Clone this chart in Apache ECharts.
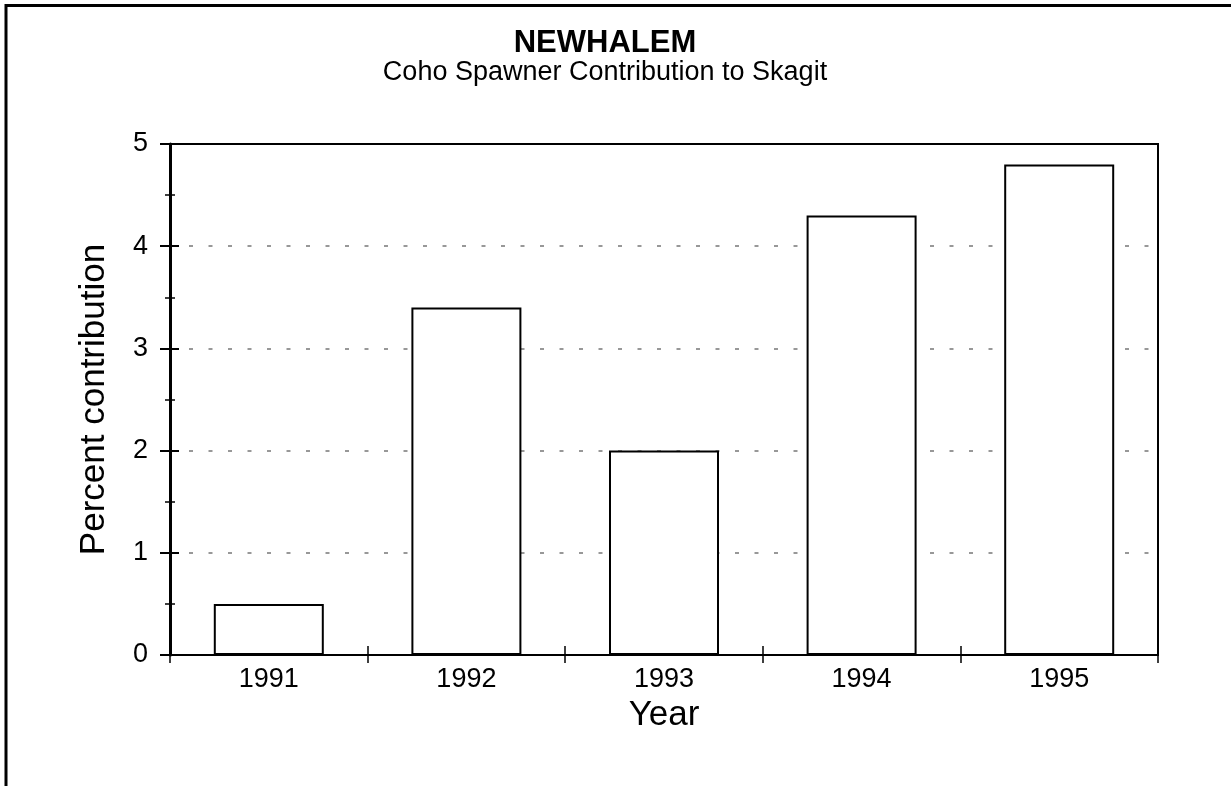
<!DOCTYPE html>
<html>
<head>
<meta charset="utf-8">
<script src="https://cdn.jsdelivr.net/npm/echarts@6/dist/echarts.min.js"></script>
<style>
  html, body { margin: 0; padding: 0; background: #fff; }
  #chart { width: 1231px; height: 786px; }
</style>
</head>
<body>
<div id="chart"></div>
<script>
// 数据
const years = ['1991', '1992', '1993', '1994', '1995'];
const percentValues = [0.5, 3.4, 2.0, 4.3, 4.8];
const chartTitle = 'NEWHALEM';
const chartSubtitle = 'Coho Spawner Contribution to Skagit';

const FONT = '"Liberation Sans", Arial, Helvetica, sans-serif';

const chart = echarts.init(document.getElementById('chart'));

// 刻度穿过轴线：同一位置放两根轴，一根向外一根向内
const yBase = {
  type: 'value', min: 0, max: 5, interval: 1, position: 'left'
};

chart.setOption({
  animation: false,
  backgroundColor: '#fff',
  grid: {
    left: 170, top: 144, right: 73, bottom: 131,
    show: true, borderColor: '#000', borderWidth: 2, backgroundColor: 'transparent'
  },
  graphic: [
    { // 外框
      type: 'rect', silent: true, z: 100,
      shape: { x: 6, y: 5.5, width: 1400, height: 1000 },
      style: { fill: 'none', stroke: '#000', lineWidth: 3 }
    },
    {
      type: 'text', x: 605, y: 28,
      style: { text: chartTitle, font: 'bold 31px ' + FONT, fill: '#000', textAlign: 'center' }
    },
    {
      type: 'text', x: 605, y: 59,
      style: { text: chartSubtitle, font: '27px ' + FONT, fill: '#000', textAlign: 'center' }
    }
  ],
  xAxis: [
    {
      type: 'category', data: years, position: 'bottom',
      name: 'Year', nameLocation: 'middle', nameGap: 43,
      nameTextStyle: { fontFamily: FONT, fontSize: 35, color: '#000' },
      axisLine: { lineStyle: { color: '#000', width: 2 } },
      axisTick: { show: true, length: 8, lineStyle: { color: '#000', width: 1.5 } },
      axisLabel: { fontFamily: FONT, fontSize: 27, color: '#000', margin: 11 }
    },
    {
      type: 'category', data: years, position: 'bottom',
      axisLine: { show: false },
      axisTick: { show: true, inside: true, length: 9, lineStyle: { color: '#000', width: 1.5 } },
      axisLabel: { show: false }
    }
  ],
  yAxis: [
    Object.assign({}, yBase, {
      name: 'Percent contribution', nameLocation: 'middle', nameGap: 58,
      nameTextStyle: { fontFamily: FONT, fontSize: 35, color: '#000' },
      axisLine: { show: true, lineStyle: { color: '#000', width: 3 } },
      axisTick: { show: true, length: 10, lineStyle: { color: '#000', width: 2 } },
      minorTick: { show: true, splitNumber: 2, length: 5, lineStyle: { color: '#000', width: 1.5 } },
      axisLabel: { fontFamily: FONT, fontSize: 27, color: '#000', margin: 22 },
      splitLine: {
        show: true, showMinLine: false, showMaxLine: false,
        lineStyle: { color: '#777', width: 1.5, type: [4, 15.5], dashOffset: -19 }
      }
    }),
    Object.assign({}, yBase, {
      axisLine: { show: false },
      axisTick: { show: true, inside: true, length: 9, lineStyle: { color: '#000', width: 2 } },
      minorTick: { show: true, splitNumber: 2, length: 5, lineStyle: { color: '#000', width: 1.5 } },
      axisLabel: { show: false },
      splitLine: { show: false }
    })
  ],
  series: [{
    type: 'bar',
    data: percentValues,
    barWidth: 110,
    itemStyle: { color: '#fff', borderColor: '#000', borderWidth: 2 }
  }]
});
</script>
</body>
</html>
